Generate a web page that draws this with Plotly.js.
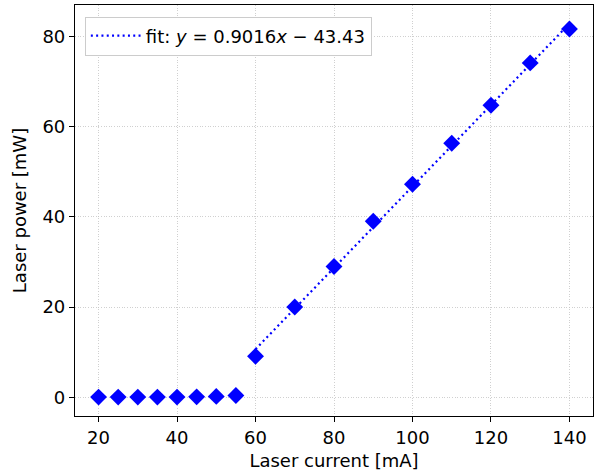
<!DOCTYPE html>
<html>
<head>
<meta charset="utf-8">
<script src="https://cdn.plot.ly/plotly-3.0.1.min.js"></script>
<style>html,body{margin:0;padding:0;background:#fff;}#chart{width:601px;height:476px;}</style>
</head>
<body>
<div id="chart"></div>
<script>
// Measured data
const currentMA = [20, 25, 30, 35, 40, 45, 50, 55, 60, 70, 80, 90, 100, 110, 120, 130, 140];
const powerMW   = [0.05, 0.05, 0.05, 0.05, 0.05, 0.1, 0.2, 0.4, 9.1, 20.0, 29.0, 39.0, 47.2, 56.3, 64.7, 74.1, 81.6];
// Linear fit (coefficients as printed in the legend)
const fitSlope = 0.9016;
const fitIntercept = -43.43;
const fitX = [60, 140];
const fitY = fitX.map(x => fitSlope * x + fitIntercept);
const xTicks = [20, 40, 60, 80, 100, 120, 140];
const yTicks = [0, 20, 40, 60, 80];

const font = {family: 'DejaVu Sans, sans-serif', size: 18, color: '#000'};

const traces = [
  {
    x: fitX, y: fitY, mode: 'lines', type: 'scatter',
    name: 'fit: <i>y</i> = 0.9016<i>x</i> − 43.43',
    line: {color: '#0000ff', width: 2.2, dash: '2px,3.3px'},
    showlegend: true
  },
  {
    x: currentMA, y: powerMW, mode: 'markers', type: 'scatter',
    marker: {symbol: 'diamond', size: 13, color: '#0000ff', line: {width: 0}},
    showlegend: false
  }
];

const axisCommon = {
  showline: true, mirror: true, linecolor: '#000', linewidth: 1.1,
  ticks: 'outside', ticklen: 5, tickwidth: 1, tickcolor: '#000',
  showgrid: true, gridcolor: '#c4c4c4', gridwidth: 0.8, griddash: '1px,1.6px',
  zeroline: false, tickfont: font
};

const layout = {
  width: 601, height: 476,
  margin: {l: 75, r: 8, t: 5, b: 60},
  paper_bgcolor: '#fff', plot_bgcolor: '#fff',
  font: font,
  showlegend: true,
  hovermode: false,
  xaxis: Object.assign({}, axisCommon, {
    range: [14, 146], tickvals: xTicks,
    title: {text: 'Laser current [mA]', font: font, standoff: 7}
  }),
  yaxis: Object.assign({}, axisCommon, {
    range: [-4.14, 86.93], tickvals: yTicks,
    title: {text: 'Laser power [mW]', font: font, standoff: 11}
  }),
  legend: {
    x: 0.019, y: 0.972, xanchor: 'left', yanchor: 'top',
    bgcolor: '#fff', bordercolor: '#cccccc', borderwidth: 1,
    itemwidth: 50,
    font: font
  }
};

Plotly.newPlot('chart', traces, layout, {displayModeBar: false, staticPlot: true});
</script>
</body>
</html>
